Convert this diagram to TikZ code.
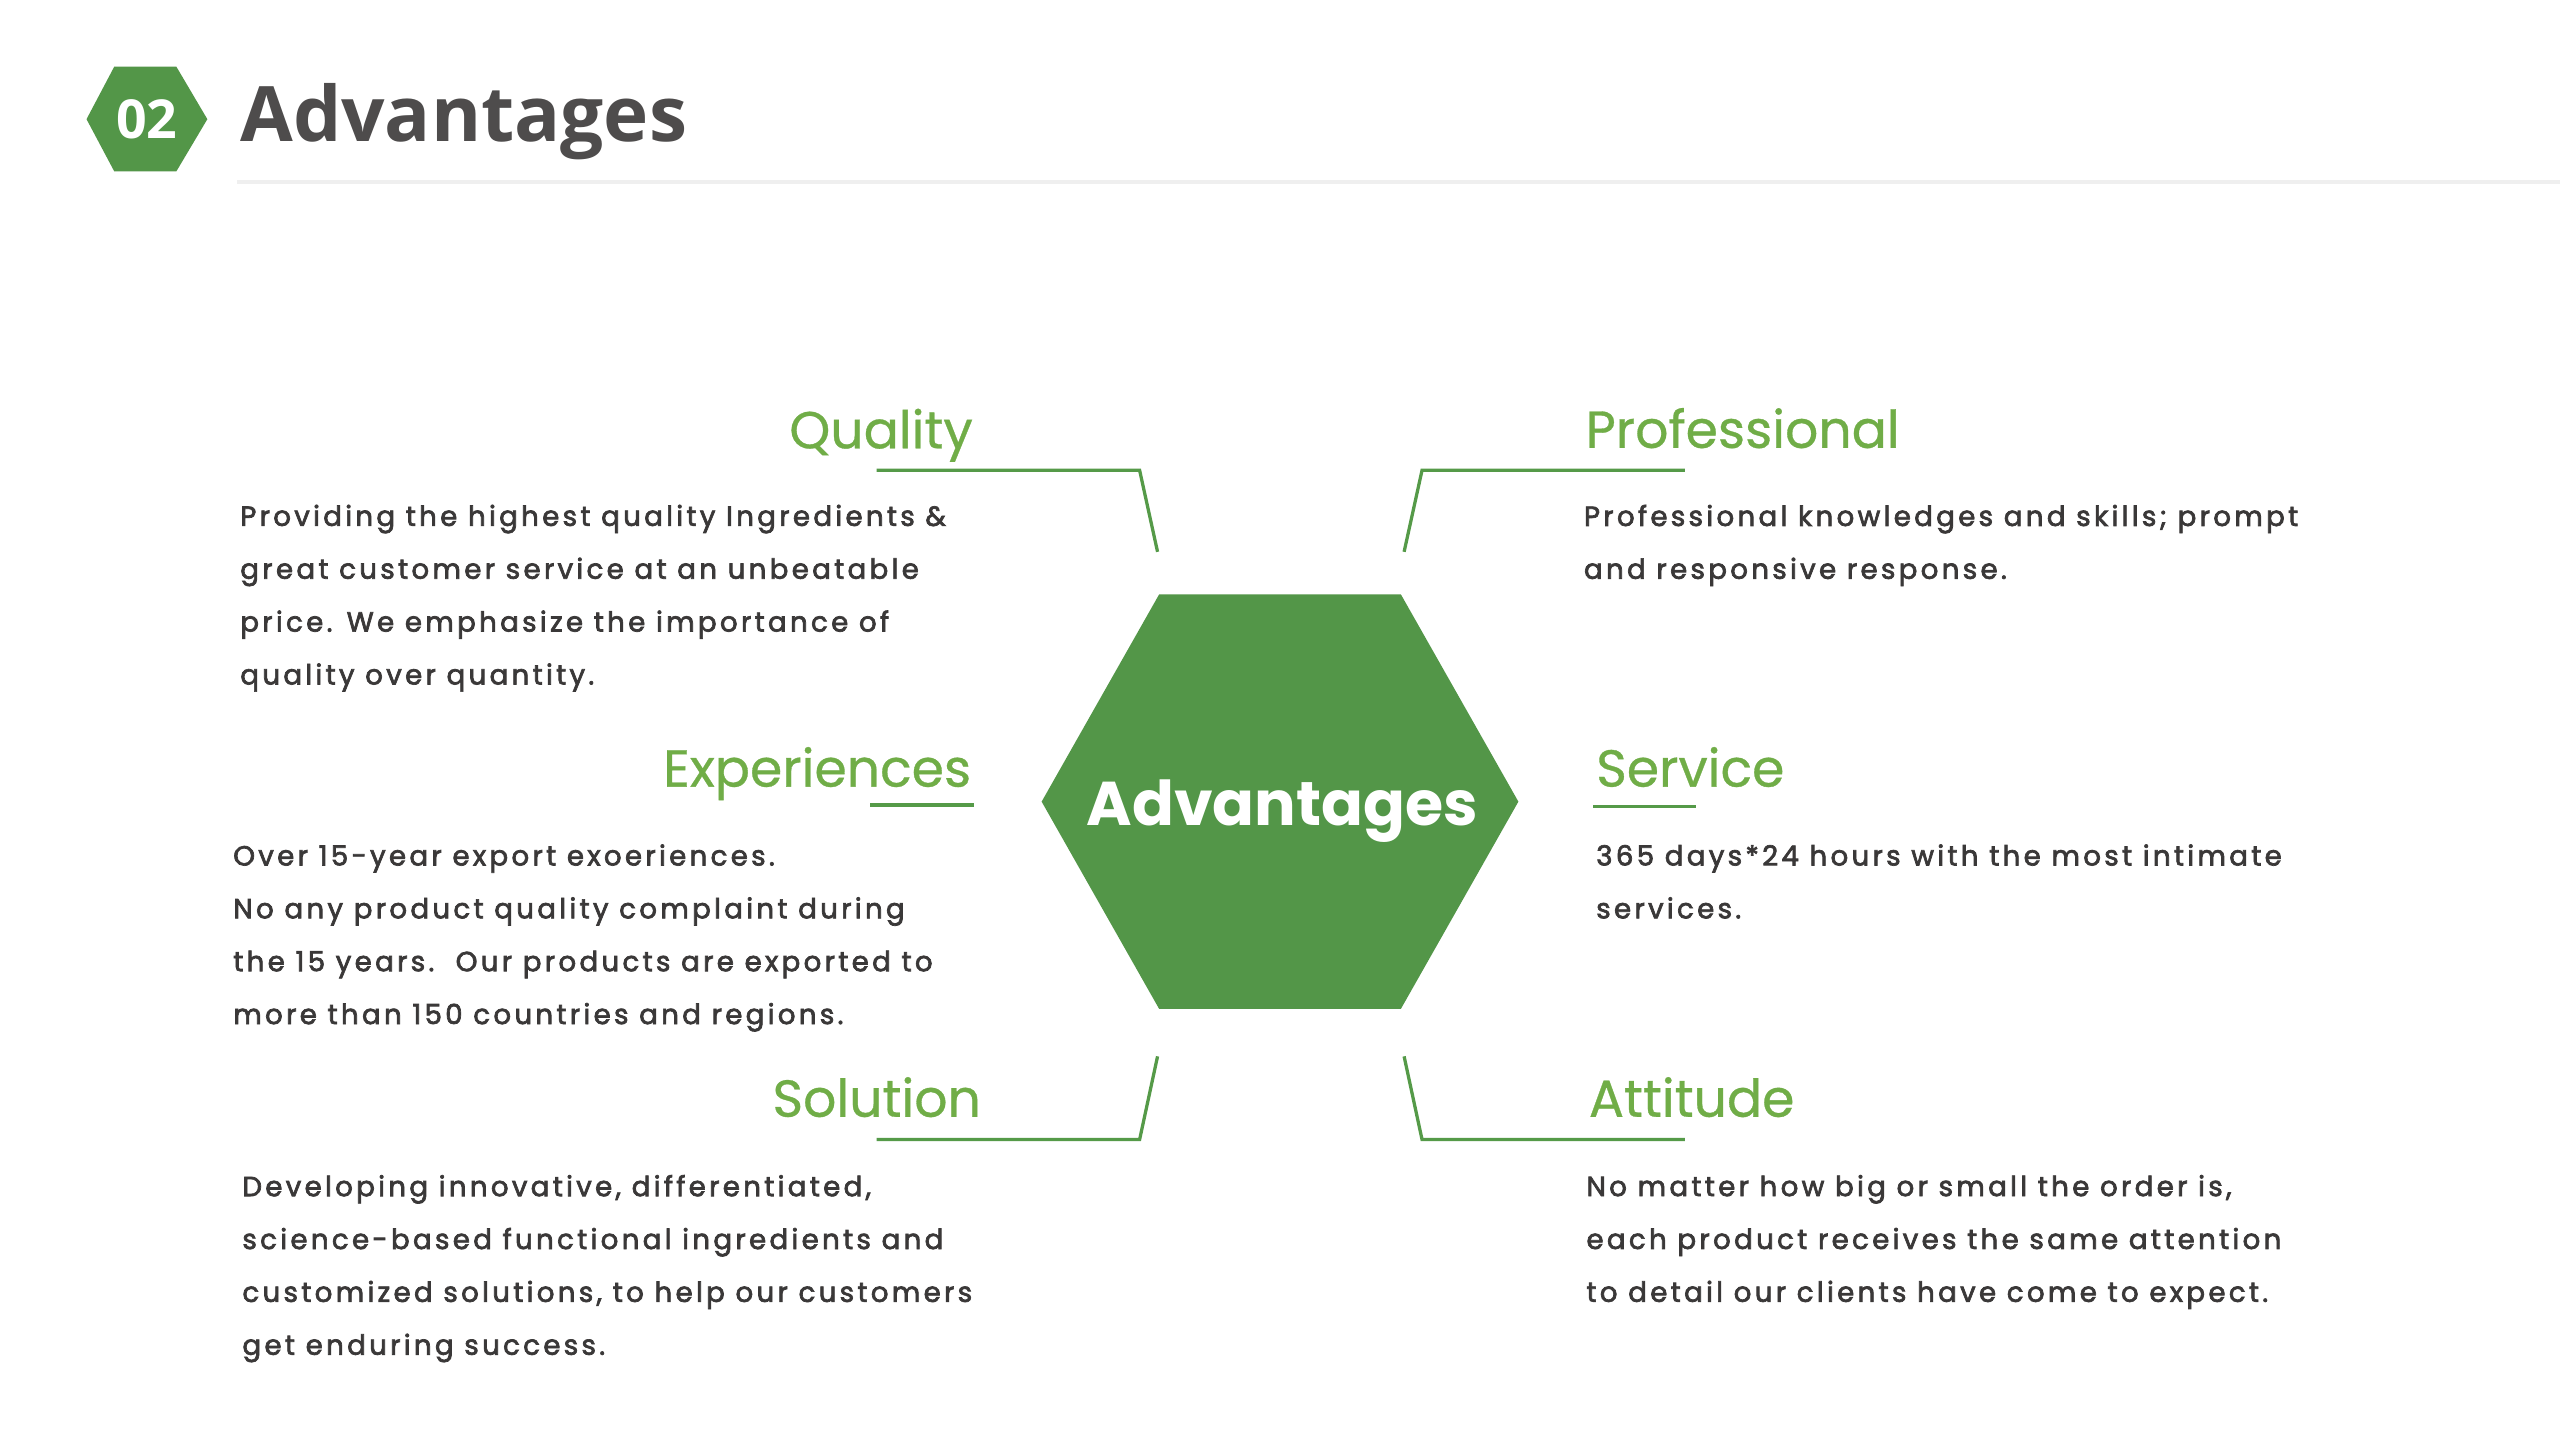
\documentclass[tikz,border=0pt]{standalone}
\usepackage{fontspec}
\setmainfont{Poppins}
\newfontfamily\bodyfont{Poppins}[LetterSpace=12, FakeBold=2.5]
\newfontfamily\headfont{Poppins}[FakeBold=0.6]
\newfontfamily\hexfont{Poppins}
\newfontfamily\titlefont{Open Sans}
\definecolor{hexgreen}{HTML}{539648}
\definecolor{headgreen}{HTML}{70AD47}
\definecolor{linegreen}{HTML}{559A48}
\definecolor{txt}{HTML}{3A3838}
\definecolor{rulegray}{HTML}{EFEFEF}
\tikzset{
  bodytext/.style={anchor=north west, inner sep=0pt, align=left, text=txt,
    font=\bodyfont\fontsize{17}{32.5}\selectfont},
  headL/.style={anchor=base east, inner sep=0pt, text=headgreen,
    font=\headfont\fontsize{32}{36}\selectfont},
  headR/.style={anchor=base west, inner sep=0pt, text=headgreen,
    font=\headfont\fontsize{32}{36}\selectfont},
  conn/.style={draw=linegreen, line width=2bp},
}
\begin{document}
\begin{tikzpicture}[x=1bp,y=-1bp]
\useasboundingbox (0,0) rectangle (1568,882);
\fill[white] (0,0) rectangle (1568,882);
% header
\fill[hexgreen] (70,40.8) -- (108,40.8) -- (127,73) -- (108,105) -- (70,105) -- (53,73) -- cycle;
\node (num) at (90,73) [inner sep=0pt, text=white, font=\titlefont\bfseries\fontsize{33}{36}\selectfont] {02};
\node (title) at (147,86.8) [anchor=base west, inner sep=0pt, text=txt!90!white, font=\titlefont\bfseries\fontsize{47}{50}\selectfont] {Advantages};
\fill[rulegray] (145,110.2) rectangle (1568,112.5);
% central hexagon
\fill[hexgreen] (710,364) -- (858,364) -- (930,491) -- (858,618) -- (710,618) -- (638,491) -- cycle;
\node (center) at (785.5,505.9) [anchor=base, inner sep=0pt, text=white, font=\hexfont\bfseries\fontsize{38}{40}\selectfont] {Advantages};
% connectors
\coordinate (q1) at (537,288); \coordinate (q2) at (698,288); \coordinate (q3) at (709,338);
\coordinate (p1) at (1032,288); \coordinate (p2) at (871,288); \coordinate (p3) at (860,338);
\coordinate (s1) at (537,698); \coordinate (s2) at (698,698); \coordinate (s3) at (709,647);
\coordinate (a1) at (1032,698); \coordinate (a2) at (871,698); \coordinate (a3) at (860,647);
\coordinate (e1) at (533,493); \coordinate (e2) at (596.5,493);
\coordinate (v1) at (976,494); \coordinate (v2) at (1039,494);
\draw[conn] (q1) -- (q2) -- (q3);
\draw[conn] (p1) -- (p2) -- (p3);
\draw[conn] (s1) -- (s2) -- (s3);
\draw[conn] (a1) -- (a2) -- (a3);
\draw[conn] (e1) -- (e2);
\draw[conn] (v1) -- (v2);
% headings
\node (hq) at (596,274.6) [headL] {Quality};
\node (hp) at (971,274.3) [headR] {Professional};
\node (he) at (595,481.8) [headL] {Experiences};
\node (hv) at (977.5,481.8) [headR] {Service};
\node (hs) at (601,684) [headL] {Solution};
\node (ha) at (973,684) [headR] {Attitude};
% bodies
\node (bq) at (147,309) [bodytext] {Providing the highest quality Ingredients \&\\great customer service at an unbeatable\\price. We emphasize the importance of\\quality over quantity.};
\node (bp) at (970,309) [bodytext] {Professional knowledges and skills; prompt\\and responsive response.};
\node (be) at (142.7,517) [bodytext] {Over 15-year export exoeriences.\\No any product quality complaint during\\the 15 years.~~Our products are exported to\\more than 150 countries and regions.};
\node (bv) at (977.5,517) [bodytext] {365 days*24 hours with the most intimate\\services.};
\node (bs) at (148.3,719.5) [bodytext] {Developing innovative, differentiated,\\science-based functional ingredients and\\customized solutions, to help our customers\\get enduring success.};
\node (ba) at (971.5,719.5) [bodytext] {No matter how big or small the order is,\\each product receives the same attention\\to detail our clients have come to expect.};
\end{tikzpicture}
\end{document}
